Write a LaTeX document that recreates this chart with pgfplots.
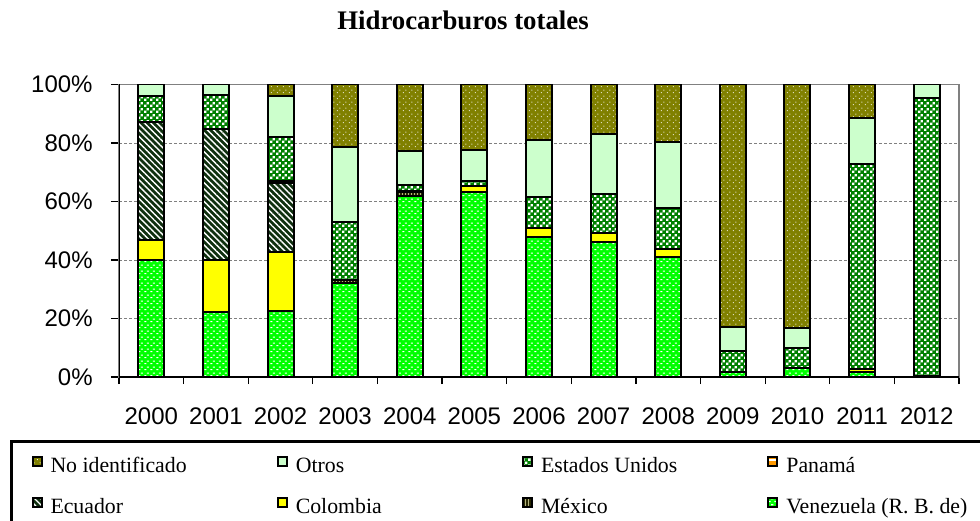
\documentclass[border=0pt]{standalone}
\usepackage{fontspec}
\setmainfont{Liberation Serif}
\setsansfont{Liberation Sans}
\usepackage{pgfplots}
\pgfplotsset{compat=1.18}
\usepackage{pgfplotstable}
\usetikzlibrary{patterns,patterns.meta}

\definecolor{cVen}{HTML}{00FF00}
\definecolor{cMex}{HTML}{262600}
\definecolor{cMexS}{HTML}{B3B380}
\definecolor{cCol}{HTML}{FFFF00}
\definecolor{cEcu}{HTML}{0F300F}
\definecolor{cPan}{HTML}{FF9900}
\definecolor{cEU}{HTML}{008000}
\definecolor{cOtr}{HTML}{CCFFCC}
\definecolor{cNoId}{HTML}{808000}

% small patterns resembling the spreadsheet fills
\pgfdeclarepatternformonly{vdash}{\pgfpointorigin}{\pgfqpoint{3pt}{3pt}}{\pgfqpoint{3pt}{3pt}}{%
  \pgfpathrectangle{\pgfqpoint{0.2pt}{0.5pt}}{\pgfqpoint{1.2pt}{0.6pt}}%
  \pgfpathrectangle{\pgfqpoint{1.7pt}{2.0pt}}{\pgfqpoint{1.2pt}{0.6pt}}%
  \pgfusepath{fill}}
\pgfdeclarepatternformonly{sdots}{\pgfpointorigin}{\pgfqpoint{3pt}{3pt}}{\pgfqpoint{3pt}{3pt}}{%
  \pgfpathcircle{\pgfqpoint{0.75pt}{0.75pt}}{0.3pt}%
  \pgfpathcircle{\pgfqpoint{2.25pt}{2.25pt}}{0.3pt}%
  \pgfusepath{fill}}
\pgfdeclarepatternformonly{chk}{\pgfpointorigin}{\pgfqpoint{3pt}{3pt}}{\pgfqpoint{3pt}{3pt}}{%
  \pgfpathrectangle{\pgfqpoint{0.05pt}{0.05pt}}{\pgfqpoint{1.35pt}{1.35pt}}%
  \pgfpathrectangle{\pgfqpoint{1.55pt}{1.55pt}}{\pgfqpoint{1.35pt}{1.35pt}}%
  \pgfusepath{fill}}

% shares (%), stacked from the bottom
\pgfplotstableread{
x  Ven  Mex  Col  Ecu  Pan  EU   Otr  NoId
0  40.0 0.0  6.8  40.5 0.0  8.7  4.0  0.0
1  22.1 0.0  17.9 44.7 0.0  11.8 3.5  0.0
2  22.7 0.0  20.1 23.4 0.9  14.8 14.1 4.0
3  32.0 1.2  0.0  0.0  0.0  19.7 25.6 21.5
4  62.0 1.3  0.0  0.0  0.3  2.0  11.7 22.7
5  63.4 0.0  1.9  0.0  0.0  1.7  10.6 22.4
6  48.0 0.0  3.0  0.0  0.0  10.6 19.4 19.0
7  46.3 0.0  2.8  0.0  0.0  13.4 20.6 16.9
8  41.1 0.0  2.7  0.0  0.0  14.1 22.6 19.5
9  1.8  0.0  0.0  0.0  0.0  7.2  8.0  83.0
10 3.2  0.0  0.0  0.0  0.0  6.8  6.6  83.4
11 1.6  0.0  1.0  0.0  0.0  70.2 15.9 11.3
12 0.3  0.0  0.0  0.0  0.0  95.0 4.7  0.0
}\datatable

\newcommand{\legtxt}[1]{\makebox[113.15pt][l]{#1}}

\begin{document}
\begin{tikzpicture}
\begin{axis}[
  at={(59.5pt,71.5pt)},
  scale only axis, width=420pt, height=146.25pt,
  ybar stacked, bar width=13pt,
  xmin=-0.5, xmax=12.5, ymin=0, ymax=100,
  xtick={0,...,12},
  xticklabels={2000,2001,2002,2003,2004,2005,2006,2007,2008,2009,2010,2011,2012},
  minor xtick={-0.5,0.5,...,12.5},
  major x tick style={draw=none},
  tick align=outside, tick pos=left,
  major tick length=4pt, minor tick length=3.5pt,
  tick style={black, line width=0.6pt},
  ytick={0,20,...,100},
  yticklabels={0\%,20\%,40\%,60\%,80\%,100\%},
  ticklabel style={font=\sffamily\fontsize{12}{14}\selectfont},
  xticklabel style={anchor=base, inner sep=0pt, yshift=-19.5pt},
  yticklabel style={anchor=east, inner sep=0pt, xshift=-9pt},
  ymajorgrids,
  grid style={gray, dash pattern=on 1.5pt off 1pt, line width=0.5pt},
  axis line style={draw=gray, line width=0.8pt},
  every axis plot/.append style={draw=black, line width=1pt},
  legend columns=4, reverse legend,
  legend image code/.code={%
    \draw[#1, line width=1pt] (0pt,0.75pt) rectangle (4.5pt,5.25pt);
    \path (8.5pt,0pt);},
  legend style={
    at={(-0.13036,-0.21368)}, anchor=north west,
    draw=black, line width=1.5pt,
    inner xsep=10.25pt, inner ysep=7.25pt,
    font=\fontsize{10.9}{12}\selectfont,
    nodes={inner sep=0pt, text height=7.5pt, text depth=2.5pt},
    row sep=10pt, column sep=0pt,
  },
]
\addplot[fill=cVen, postaction={pattern=vdash, pattern color=white}]
  table[x=x, y=Ven] {\datatable};
\addlegendentry{\legtxt{Venezuela (R. B. de)}}
\addplot[fill=cMex, postaction={pattern={Lines[angle=90,distance=1.5pt,line width=0.5pt]}, pattern color=cMexS}]
  table[x=x, y=Mex] {\datatable};
\addlegendentry{\legtxt{México}}
\addplot[fill=cCol]
  table[x=x, y=Col] {\datatable};
\addlegendentry{\legtxt{Colombia}}
\addplot[fill=cEcu, postaction={pattern={Lines[angle=-45,distance=2.2pt,line width=0.7pt]}, pattern color=white}]
  table[x=x, y=Ecu] {\datatable};
\addlegendentry{\legtxt{Ecuador}}
\addplot[fill=cPan, postaction={pattern={Lines[angle=0,distance=3pt,line width=0.6pt]}, pattern color=white}]
  table[x=x, y=Pan] {\datatable};
\addlegendentry{\legtxt{Panamá}}
\addplot[fill=cEU, postaction={pattern=chk, pattern color=white}]
  table[x=x, y=EU] {\datatable};
\addlegendentry{\legtxt{Estados Unidos}}
\addplot[fill=cOtr]
  table[x=x, y=Otr] {\datatable};
\addlegendentry{\legtxt{Otros}}
\addplot[fill=cNoId, postaction={pattern=sdots, pattern color=white}]
  table[x=x, y=NoId] {\datatable};
\addlegendentry{\legtxt{No identificado}}
\draw[black, line width=0.8pt] (rel axis cs:0,1) -- (rel axis cs:0,0) -- (rel axis cs:1,0);
\end{axis}
\node[font=\bfseries\fontsize{13.4}{16}\selectfont, anchor=base] at (231.5pt,245pt) {Hidrocarburos totales};
\pgfresetboundingbox
\path[use as bounding box] (0,0) rectangle (490pt,260pt);
\end{tikzpicture}
\end{document}
